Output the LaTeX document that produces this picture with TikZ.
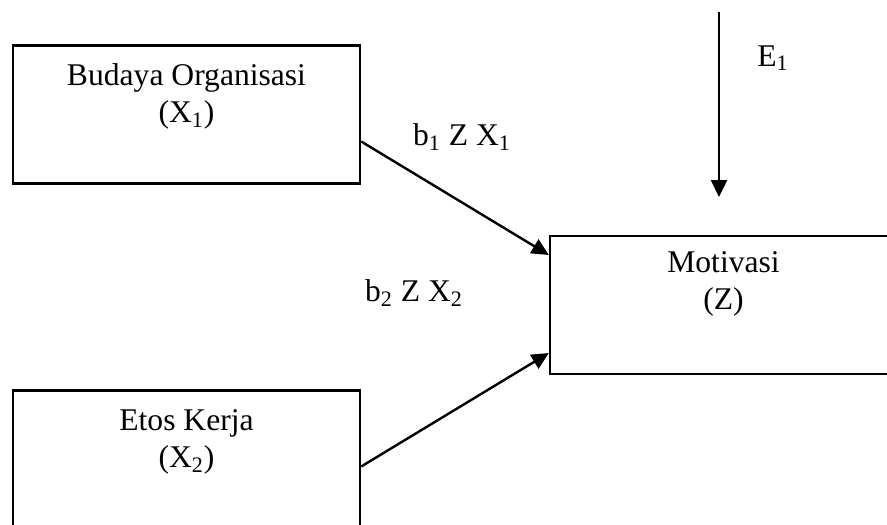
\documentclass[tikz,border=0pt]{standalone}
\usepackage{fontspec}
\setmainfont{Liberation Serif}
\usetikzlibrary{arrows.meta,positioning}
\tikzset{
  varbox/.style={draw, line width=1.2pt, minimum width=173.5pt, minimum height=69pt, inner sep=0pt},
  vartext/.style={align=center, font=\fontsize{15.8}{18.5}\selectfont},
  pathlbl/.style={font=\fontsize{15.8}{18.5}\selectfont},
  effect/.style={line width=1.2pt, -{Triangle[length=8.5pt,width=8pt]}}
}

\begin{document}
\begin{tikzpicture}[x=0.5pt, y=-0.5pt]
  \useasboundingbox (0,0) rectangle (887,524);
  % boxes
  \node[varbox] (budaya) at (186.5,114.5) {};
  \node[varbox] (motivasi) at (723.5,305) {};
  \node[varbox] (etos) at (186.5,459.5) {};
  \node[vartext] (budayatxt) at (186.5,96.5) {Budaya Organisasi\\(X\textsubscript{1})};
  \node[vartext] (motivasitxt) at (723.5,284) {Motivasi\\(Z)};
  \node[vartext] (etostxt) at (186.5,442) {Etos Kerja\\(X\textsubscript{2})};
  % paths
  \draw[effect] ([yshift=-13.5pt]budaya.east) -- ([yshift=25pt]motivasi.west);
  \draw[effect] ([yshift=-3.5pt]etos.east) -- ([yshift=-24pt]motivasi.west);
  \coordinate (etop) at (719,12);
  \coordinate (ebot) at (719,197);
  \draw[effect] (etop) -- (ebot);
  \node[pathlbl] (b1) at (462,137) {b\textsubscript{1} Z X\textsubscript{1}};
  \node[pathlbl] (b2) at (414,293) {b\textsubscript{2} Z X\textsubscript{2}};
  \node[pathlbl] (e1) at (773,58) {E\textsubscript{1}};
\end{tikzpicture}
\end{document}
